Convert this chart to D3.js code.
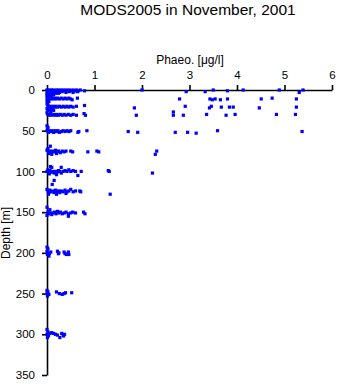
<!DOCTYPE html>
<html>
<head>
<meta charset="utf-8">
<script src="https://cdn.jsdelivr.net/npm/d3@7"></script>
<style>
  body { margin: 0; background: #fff; }
  svg { display: block; font-family: "Liberation Sans", Arial, sans-serif; }
  .axis path, .axis line { stroke: #000; stroke-width: 1.6; }
  .axis text { font-size: 11.5px; fill: #000; }
</style>
</head>
<body>
<svg id="chart"></svg>
<script>
// points as [phaeo, depth]
const surface = [
  [0.00,0],[0.02,1],[0.04,0],[0.06,1],[0.09,0],[0.11,1],[0.13,0],[0.16,1],[0.19,0],[0.21,1],
  [0.24,0],[0.27,1],[0.30,0],[0.33,1],[0.36,0],[0.39,1],[0.42,0],[0.45,1],[0.48,0],[0.51,1],
  [0.55,0],[0.58,1],[0.62,0],[0.66,1],[0.70,0],[0.79,1],
  [0.01,2],[0.05,3],[0.10,2],[0.15,3],[0.20,2],[0.26,3],[0.32,2],[0.40,3],[0.47,2],[0.55,3],[0.64,2],
  [0.00,4],[0.03,4],[0.07,4],[0.12,5],[0.18,4],[0.24,4],
  [0.00,6],[0.02,7],[0.05,6],[0.09,7],[0.14,6],
  [2.00,0],[2.93,2],[3.33,2],[3.50,0],[3.80,1],[4.13,0],[4.89,0],[5.31,3],[5.39,0]
];
const band10 = [
  [0.00,9],[0.02,11],[0.04,10],[0.07,11],[0.10,10],[0.13,11],[0.16,10],[0.19,11],[0.22,10],
  [0.26,11],[0.30,10],[0.34,11],[0.38,10],[0.42,11],[0.46,10],[0.50,11],[0.53,12],[0.64,10],
  [0.00,13],[0.02,15],[0.04,14],
  [2.79,11],[3.43,11],[3.48,12],[3.54,11],[3.65,12],[3.80,11],[4.51,11],[4.74,10],[5.25,11]
];
const band20 = [
  [0.00,17],[0.02,19],[0.04,21],[0.07,20],[0.10,22],[0.13,20],[0.16,21],[0.19,20],[0.22,21],
  [0.26,20],[0.30,21],[0.34,20],[0.38,21],[0.42,20],[0.46,21],[0.50,20],[0.55,21],[0.62,20],[0.79,19],
  [0.00,23],[0.02,25],[0.05,24],[0.08,26],[0.11,24],[0.14,25],
  [1.84,22],[2.91,20],[3.42,22],[3.46,20],[3.67,21],[3.84,21],[3.92,21],[4.47,22],[5.25,21]
];
const band30 = [
  [0.00,28],[0.02,30],[0.05,31],[0.08,29],[0.11,31],[0.15,30],[0.18,31],[0.21,30],[0.24,31],
  [0.28,30],[0.32,31],[0.36,30],[0.40,31],[0.45,30],[0.50,31],[0.55,30],[0.62,31],[0.78,29],[0.81,31],
  [1.88,31],[2.66,27],[2.66,31],[2.87,31],[3.36,30],[3.77,31],[3.96,30],[4.83,30],[5.23,30]
];
const band50 = [
  [0.00,44],[0.02,46],[0.01,48],[0.00,50],[0.03,52],[0.05,50],[0.08,51],[0.11,50],[0.14,52],
  [0.17,50],[0.20,51],[0.23,50],[0.26,52],[0.30,51],[0.34,50],[0.38,51],[0.42,50],[0.46,51],
  [0.50,50],[0.65,52],[0.67,51],[0.84,50],
  [1.71,51],[1.91,52],[2.70,52],[2.96,52],[3.14,53],[3.59,50],[5.37,51]
];
const band75 = [
  [0.07,69],[0.02,72],[0.00,74],[0.04,76],[0.06,75],[0.09,77],[0.12,75],[0.15,76],[0.18,74],
  [0.21,76],[0.24,75],[0.28,77],[0.32,75],[0.36,76],[0.40,75],[0.03,78],[0.10,79],[0.20,78],
  [0.50,75],[0.54,76],[0.86,76],[1.05,75],[1.09,76],[2.31,75],[2.28,79]
];
const band100 = [
  [0.07,94],[0.10,95],[0.30,95],[0.02,98],[0.00,100],[0.04,101],[0.06,99],[0.09,101],[0.12,100],
  [0.15,102],[0.18,100],[0.21,101],[0.24,99],[0.27,100],[0.30,102],[0.34,100],[0.38,99],[0.42,100],
  [0.46,98],[0.50,100],[0.55,99],[0.60,100],[0.72,100],[0.05,103],[0.20,104],[0.65,105],
  [1.29,99],[1.31,100],[2.22,102]
];
const band125 = [
  [0.15,111],[0.11,116],[0.00,122],[0.02,124],[0.04,126],[0.06,123],[0.09,125],[0.12,124],
  [0.15,126],[0.18,123],[0.21,125],[0.24,124],[0.27,126],[0.30,124],[0.34,125],[0.38,123],
  [0.42,125],[0.46,124],[0.50,122],[0.55,125],[0.60,124],[0.69,124],[0.71,125],
  [0.03,128],[0.20,128],[0.40,127],[1.33,128]
];
const band150 = [
  [0.00,144],[0.06,147],[0.02,150],[0.04,152],[0.00,154],[0.07,151],[0.10,153],[0.13,151],
  [0.16,150],[0.19,152],[0.22,149],[0.25,151],[0.28,150],[0.32,152],[0.36,151],[0.40,150],
  [0.45,152],[0.50,151],[0.54,150],[0.60,151],[0.77,150],[0.80,152],[0.45,155]
];
const band200 = [
  [0.00,193],[0.02,195],[0.00,198],[0.03,200],[0.01,202],[0.05,201],[0.08,199],[0.04,204],
  [0.22,198],[0.25,200],[0.24,201],[0.36,199],[0.38,201],[0.41,202],[0.45,199],[0.46,202]
];
const band250 = [
  [0.00,246],[0.02,248],[0.00,250],[0.04,251],[0.01,253],[0.20,248],[0.26,250],[0.32,251],
  [0.36,250],[0.39,249],[0.52,249]
];
const band300 = [
  [0.00,294],[0.02,297],[0.00,300],[0.03,302],[0.01,304],[0.06,299],[0.10,298],[0.14,299],
  [0.18,300],[0.22,301],[0.27,304],[0.31,299],[0.34,301],[0.37,300],[0.35,302]
];

const xTicks = [0, 1, 2, 3, 4, 5, 6];
const yTicks = [0, 50, 100, 150, 200, 250, 300, 350];

const points = [].concat(surface, band10, band20, band30, band50, band75,
  band100, band125, band150, band200, band250, band300);

const width = 338, height = 384;
const svg = d3.select('#chart').attr('width', width).attr('height', height);

const x = d3.scaleLinear().domain([0, 6]).range([47, 332]);
const y = d3.scaleLinear().domain([0, 350]).range([90, 375]);

// title + labels
svg.append('text')
  .attr('x', 188).attr('y', 14.5)
  .attr('text-anchor', 'middle')
  .style('font-size', '15.5px')
  .text('MODS2005 in November, 2001');

svg.append('text')
  .attr('x', 190).attr('y', 64)
  .attr('text-anchor', 'middle')
  .style('font-size', '12px')
  .text('Phaeo. [μg/l]');

svg.append('text')
  .attr('transform', 'translate(10,233) rotate(-90)')
  .attr('text-anchor', 'middle')
  .style('font-size', '12px')
  .text('Depth [m]');

// axes
svg.append('g')
  .attr('class', 'axis')
  .attr('transform', `translate(0,${y(0)})`)
  .call(d3.axisTop(x).tickValues(xTicks).tickFormat(d3.format('d'))
    .tickSize(5).tickSizeOuter(0).tickPadding(6));

svg.append('g')
  .attr('class', 'axis')
  .attr('transform', `translate(${x(0)},0)`)
  .call(d3.axisLeft(y).tickValues(yTicks).tickFormat(d3.format('d'))
    .tickSize(5).tickSizeOuter(0).tickPadding(7));

// points
svg.append('g')
  .selectAll('rect')
  .data(points)
  .enter()
  .append('rect')
  .attr('x', d => x(d[0]) - 1.6)
  .attr('y', d => y(d[1]) - 1.6)
  .attr('width', 3.2)
  .attr('height', 3.2)
  .attr('fill', '#0000ff');
</script>
</body>
</html>
